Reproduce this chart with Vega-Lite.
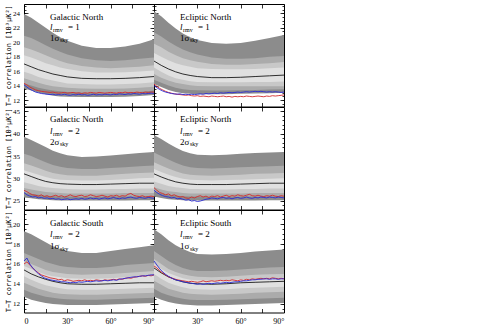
{
"$schema":"https://vega.github.io/schema/vega-lite/v6.json",
"padding":{"left":3,"top":3,"right":0,"bottom":0},
"datasets":{
"bands":[
{"p":"GN1","x":0,"h3":23.9,"h2":20.9,"h1":19.3,"h0":18.2,"m":17.0,"l0":15.9,"l1":15.0,"l2":14.3,"l3":13.6},
{"p":"GN1","x":5,"h3":23.4,"h2":20.6,"h1":19.0,"h0":17.9,"m":16.6,"l0":15.6,"l1":14.7,"l2":14.0,"l3":13.3},
{"p":"GN1","x":10,"h3":22.7,"h2":20.1,"h1":18.6,"h0":17.5,"m":16.2,"l0":15.2,"l1":14.4,"l2":13.7,"l3":13.0},
{"p":"GN1","x":15,"h3":22.0,"h2":19.6,"h1":18.2,"h0":17.1,"m":15.9,"l0":14.9,"l1":14.1,"l2":13.5,"l3":12.8},
{"p":"GN1","x":20,"h3":21.3,"h2":19.1,"h1":17.8,"h0":16.8,"m":15.6,"l0":14.7,"l1":13.9,"l2":13.3,"l3":12.6},
{"p":"GN1","x":25,"h3":20.7,"h2":18.7,"h1":17.4,"h0":16.5,"m":15.4,"l0":14.5,"l1":13.8,"l2":13.2,"l3":12.5},
{"p":"GN1","x":30,"h3":20.2,"h2":18.3,"h1":17.1,"h0":16.3,"m":15.2,"l0":14.3,"l1":13.7,"l2":13.1,"l3":12.45},
{"p":"GN1","x":40,"h3":19.5,"h2":17.8,"h1":16.7,"h0":16.0,"m":15.0,"l0":14.2,"l1":13.6,"l2":13.0,"l3":12.4},
{"p":"GN1","x":50,"h3":19.2,"h2":17.5,"h1":16.5,"h0":15.8,"m":14.95,"l0":14.15,"l1":13.55,"l2":12.95,"l3":12.4},
{"p":"GN1","x":60,"h3":19.2,"h2":17.4,"h1":16.4,"h0":15.8,"m":14.95,"l0":14.15,"l1":13.55,"l2":12.95,"l3":12.4},
{"p":"GN1","x":70,"h3":19.4,"h2":17.5,"h1":16.5,"h0":15.85,"m":15.0,"l0":14.2,"l1":13.6,"l2":13.0,"l3":12.45},
{"p":"GN1","x":80,"h3":19.8,"h2":17.7,"h1":16.6,"h0":15.95,"m":15.1,"l0":14.3,"l1":13.7,"l2":13.1,"l3":12.55},
{"p":"GN1","x":90,"h3":20.4,"h2":17.9,"h1":16.8,"h0":16.1,"m":15.25,"l0":14.45,"l1":13.85,"l2":13.3,"l3":12.7},
{"p":"EN1","x":0,"h3":24.3,"h2":21.4,"h1":19.8,"h0":18.5,"m":17.4,"l0":16.5,"l1":15.6,"l2":14.8,"l3":14.2},
{"p":"EN1","x":5,"h3":23.6,"h2":20.8,"h1":19.3,"h0":18.0,"m":16.8,"l0":15.9,"l1":15.1,"l2":14.4,"l3":13.8},
{"p":"EN1","x":10,"h3":22.7,"h2":20.1,"h1":18.7,"h0":17.5,"m":16.3,"l0":15.4,"l1":14.7,"l2":14.0,"l3":13.4},
{"p":"EN1","x":15,"h3":21.9,"h2":19.5,"h1":18.2,"h0":17.1,"m":15.9,"l0":15.0,"l1":14.4,"l2":13.7,"l3":13.1},
{"p":"EN1","x":20,"h3":21.2,"h2":19.0,"h1":17.8,"h0":16.8,"m":15.6,"l0":14.8,"l1":14.2,"l2":13.5,"l3":12.95},
{"p":"EN1","x":25,"h3":20.7,"h2":18.6,"h1":17.5,"h0":16.6,"m":15.4,"l0":14.6,"l1":14.05,"l2":13.4,"l3":12.85},
{"p":"EN1","x":30,"h3":20.3,"h2":18.3,"h1":17.3,"h0":16.4,"m":15.25,"l0":14.5,"l1":13.95,"l2":13.35,"l3":12.8},
{"p":"EN1","x":40,"h3":19.9,"h2":17.9,"h1":17.0,"h0":16.3,"m":15.1,"l0":14.45,"l1":13.9,"l2":13.3,"l3":12.8},
{"p":"EN1","x":50,"h3":19.8,"h2":17.7,"h1":16.9,"h0":16.25,"m":15.1,"l0":14.45,"l1":13.9,"l2":13.3,"l3":12.8},
{"p":"EN1","x":60,"h3":19.9,"h2":17.7,"h1":16.9,"h0":16.25,"m":15.15,"l0":14.45,"l1":13.9,"l2":13.35,"l3":12.85},
{"p":"EN1","x":70,"h3":20.2,"h2":17.8,"h1":17.0,"h0":16.3,"m":15.25,"l0":14.5,"l1":13.9,"l2":13.4,"l3":12.9},
{"p":"EN1","x":80,"h3":20.6,"h2":18.0,"h1":17.1,"h0":16.4,"m":15.35,"l0":14.5,"l1":13.9,"l2":13.45,"l3":12.95},
{"p":"EN1","x":90,"h3":21.0,"h2":18.1,"h1":17.25,"h0":16.5,"m":15.45,"l0":14.55,"l1":13.9,"l2":13.5,"l3":13.0},
{"p":"GN2","x":0,"h3":39.3,"h2":35.5,"h1":33.4,"h0":31.8,"m":31.0,"l0":29.1,"l1":27.8,"l2":26.8,"l3":25.7},
{"p":"GN2","x":5,"h3":38.6,"h2":35.0,"h1":32.9,"h0":31.3,"m":30.4,"l0":28.7,"l1":27.5,"l2":26.5,"l3":25.5},
{"p":"GN2","x":10,"h3":37.8,"h2":34.3,"h1":32.3,"h0":30.8,"m":29.8,"l0":28.3,"l1":27.2,"l2":26.3,"l3":25.3},
{"p":"GN2","x":15,"h3":37.0,"h2":33.6,"h1":31.7,"h0":30.3,"m":29.3,"l0":28.0,"l1":26.9,"l2":26.1,"l3":25.2},
{"p":"GN2","x":20,"h3":36.2,"h2":33.0,"h1":31.2,"h0":29.9,"m":29.0,"l0":27.8,"l1":26.8,"l2":26.0,"l3":25.1},
{"p":"GN2","x":25,"h3":35.6,"h2":32.6,"h1":30.9,"h0":29.7,"m":28.8,"l0":27.7,"l1":26.7,"l2":25.9,"l3":25.0},
{"p":"GN2","x":30,"h3":35.2,"h2":32.3,"h1":30.7,"h0":29.6,"m":28.7,"l0":27.6,"l1":26.6,"l2":25.9,"l3":25.0},
{"p":"GN2","x":40,"h3":34.8,"h2":32.1,"h1":30.6,"h0":29.5,"m":28.6,"l0":27.5,"l1":26.6,"l2":25.8,"l3":25.0},
{"p":"GN2","x":50,"h3":34.9,"h2":32.1,"h1":30.6,"h0":29.5,"m":28.6,"l0":27.5,"l1":26.6,"l2":25.8,"l3":25.0},
{"p":"GN2","x":60,"h3":35.1,"h2":32.3,"h1":30.8,"h0":29.6,"m":28.7,"l0":27.6,"l1":26.6,"l2":25.9,"l3":25.0},
{"p":"GN2","x":70,"h3":35.4,"h2":32.5,"h1":31.0,"h0":29.8,"m":28.8,"l0":27.6,"l1":26.7,"l2":25.9,"l3":25.0},
{"p":"GN2","x":80,"h3":35.7,"h2":32.7,"h1":31.2,"h0":30.0,"m":28.9,"l0":27.7,"l1":26.7,"l2":25.9,"l3":25.1},
{"p":"GN2","x":90,"h3":35.9,"h2":32.9,"h1":31.3,"h0":30.1,"m":28.9,"l0":27.7,"l1":26.7,"l2":26.0,"l3":25.1},
{"p":"EN2","x":0,"h3":39.7,"h2":35.8,"h1":33.6,"h0":32.1,"m":31.0,"l0":29.3,"l1":28.0,"l2":27.0,"l3":25.9},
{"p":"EN2","x":5,"h3":38.8,"h2":35.0,"h1":32.9,"h0":31.4,"m":30.3,"l0":28.8,"l1":27.5,"l2":26.6,"l3":25.6},
{"p":"EN2","x":10,"h3":37.8,"h2":34.2,"h1":32.2,"h0":30.8,"m":29.7,"l0":28.3,"l1":27.1,"l2":26.3,"l3":25.3},
{"p":"EN2","x":15,"h3":36.9,"h2":33.5,"h1":31.6,"h0":30.3,"m":29.2,"l0":28.0,"l1":26.9,"l2":26.1,"l3":25.2},
{"p":"EN2","x":20,"h3":36.1,"h2":32.9,"h1":31.1,"h0":29.9,"m":28.9,"l0":27.8,"l1":26.7,"l2":26.0,"l3":25.1},
{"p":"EN2","x":25,"h3":35.6,"h2":32.5,"h1":30.8,"h0":29.7,"m":28.7,"l0":27.6,"l1":26.6,"l2":25.9,"l3":25.0},
{"p":"EN2","x":30,"h3":35.3,"h2":32.3,"h1":30.7,"h0":29.6,"m":28.6,"l0":27.6,"l1":26.6,"l2":25.9,"l3":25.0},
{"p":"EN2","x":40,"h3":35.2,"h2":32.2,"h1":30.6,"h0":29.5,"m":28.6,"l0":27.5,"l1":26.6,"l2":25.8,"l3":25.0},
{"p":"EN2","x":50,"h3":35.3,"h2":32.3,"h1":30.7,"h0":29.6,"m":28.6,"l0":27.5,"l1":26.6,"l2":25.8,"l3":25.0},
{"p":"EN2","x":60,"h3":35.5,"h2":32.5,"h1":30.8,"h0":29.7,"m":28.7,"l0":27.6,"l1":26.6,"l2":25.9,"l3":25.0},
{"p":"EN2","x":70,"h3":35.7,"h2":32.6,"h1":31.0,"h0":29.8,"m":28.8,"l0":27.6,"l1":26.7,"l2":25.9,"l3":25.0},
{"p":"EN2","x":80,"h3":35.8,"h2":32.7,"h1":31.1,"h0":29.9,"m":28.9,"l0":27.7,"l1":26.7,"l2":25.9,"l3":25.1},
{"p":"EN2","x":90,"h3":35.9,"h2":32.8,"h1":31.2,"h0":30.0,"m":28.9,"l0":27.7,"l1":26.7,"l2":26.0,"l3":25.1},
{"p":"GS2","x":0,"h3":19.3,"h2":17.1,"h1":16.3,"h0":15.8,"m":15.4,"l0":14.75,"l1":14.1,"l2":13.4,"l3":12.7},
{"p":"GS2","x":5,"h3":19.0,"h2":16.8,"h1":16.0,"h0":15.5,"m":15.0,"l0":14.4,"l1":13.8,"l2":13.1,"l3":12.4},
{"p":"GS2","x":10,"h3":18.6,"h2":16.5,"h1":15.7,"h0":15.2,"m":14.7,"l0":14.1,"l1":13.5,"l2":12.9,"l3":12.2},
{"p":"GS2","x":15,"h3":18.2,"h2":16.2,"h1":15.4,"h0":14.9,"m":14.45,"l0":13.85,"l1":13.3,"l2":12.7,"l3":12.05},
{"p":"GS2","x":20,"h3":17.8,"h2":16.0,"h1":15.2,"h0":14.75,"m":14.25,"l0":13.7,"l1":13.1,"l2":12.6,"l3":11.95},
{"p":"GS2","x":25,"h3":17.5,"h2":15.8,"h1":15.1,"h0":14.65,"m":14.1,"l0":13.55,"l1":13.0,"l2":12.5,"l3":11.9},
{"p":"GS2","x":30,"h3":17.3,"h2":15.7,"h1":15.0,"h0":14.55,"m":14.0,"l0":13.45,"l1":12.95,"l2":12.45,"l3":11.85},
{"p":"GS2","x":40,"h3":17.1,"h2":15.6,"h1":14.9,"h0":14.5,"m":13.95,"l0":13.4,"l1":12.9,"l2":12.4,"l3":11.85},
{"p":"GS2","x":50,"h3":17.1,"h2":15.6,"h1":14.95,"h0":14.5,"m":13.95,"l0":13.4,"l1":12.9,"l2":12.4,"l3":11.85},
{"p":"GS2","x":60,"h3":17.3,"h2":15.7,"h1":15.0,"h0":14.55,"m":14.0,"l0":13.45,"l1":12.95,"l2":12.45,"l3":11.9},
{"p":"GS2","x":70,"h3":17.5,"h2":15.9,"h1":15.1,"h0":14.65,"m":14.05,"l0":13.5,"l1":13.0,"l2":12.5,"l3":11.95},
{"p":"GS2","x":80,"h3":17.7,"h2":16.0,"h1":15.2,"h0":14.75,"m":14.1,"l0":13.55,"l1":13.05,"l2":12.55,"l3":12.0},
{"p":"GS2","x":90,"h3":17.9,"h2":16.1,"h1":15.3,"h0":14.8,"m":14.1,"l0":13.6,"l1":13.1,"l2":12.6,"l3":12.05},
{"p":"ES2","x":0,"h3":19.5,"h2":17.3,"h1":16.5,"h0":16.0,"m":15.6,"l0":15.0,"l1":14.3,"l2":13.5,"l3":12.7},
{"p":"ES2","x":5,"h3":19.0,"h2":16.8,"h1":16.0,"h0":15.5,"m":15.1,"l0":14.5,"l1":13.9,"l2":13.1,"l3":12.4},
{"p":"ES2","x":10,"h3":18.4,"h2":16.3,"h1":15.5,"h0":15.1,"m":14.7,"l0":14.1,"l1":13.5,"l2":12.85,"l3":12.15},
{"p":"ES2","x":15,"h3":17.9,"h2":15.9,"h1":15.2,"h0":14.8,"m":14.4,"l0":13.85,"l1":13.3,"l2":12.65,"l3":12.0},
{"p":"ES2","x":20,"h3":17.5,"h2":15.6,"h1":14.95,"h0":14.55,"m":14.2,"l0":13.65,"l1":13.1,"l2":12.5,"l3":11.9},
{"p":"ES2","x":25,"h3":17.2,"h2":15.4,"h1":14.8,"h0":14.4,"m":14.05,"l0":13.5,"l1":13.0,"l2":12.4,"l3":11.85},
{"p":"ES2","x":30,"h3":17.0,"h2":15.3,"h1":14.7,"h0":14.35,"m":14.0,"l0":13.45,"l1":12.95,"l2":12.35,"l3":11.8},
{"p":"ES2","x":40,"h3":16.95,"h2":15.3,"h1":14.65,"h0":14.3,"m":13.95,"l0":13.4,"l1":12.9,"l2":12.35,"l3":11.8},
{"p":"ES2","x":50,"h3":17.0,"h2":15.35,"h1":14.7,"h0":14.35,"m":14.0,"l0":13.45,"l1":12.95,"l2":12.4,"l3":11.85},
{"p":"ES2","x":60,"h3":17.1,"h2":15.45,"h1":14.8,"h0":14.45,"m":14.1,"l0":13.55,"l1":13.0,"l2":12.45,"l3":11.9},
{"p":"ES2","x":70,"h3":17.25,"h2":15.55,"h1":14.9,"h0":14.5,"m":14.15,"l0":13.6,"l1":13.1,"l2":12.5,"l3":11.95},
{"p":"ES2","x":80,"h3":17.35,"h2":15.65,"h1":14.95,"h0":14.55,"m":14.2,"l0":13.65,"l1":13.15,"l2":12.55,"l3":12.0},
{"p":"ES2","x":90,"h3":17.45,"h2":15.7,"h1":15.0,"h0":14.6,"m":14.25,"l0":13.7,"l1":13.2,"l2":12.6,"l3":12.05}
],
"lines":[
{"p":"GN1","x":0,"r":14.3,"b":14.1},{"p":"GN1","x":2,"r":14.1,"b":13.8},{"p":"GN1","x":4,"r":13.8,"b":13.5},{"p":"GN1","x":6,"r":13.6,"b":13.3},{"p":"GN1","x":8,"r":13.4,"b":13.1},{"p":"GN1","x":10,"r":13.3,"b":13.0},{"p":"GN1","x":12,"r":13.2,"b":12.9},{"p":"GN1","x":14,"r":13.15,"b":12.85},{"p":"GN1","x":16,"r":13.1,"b":12.8},{"p":"GN1","x":18,"r":13.05,"b":12.75},
{"p":"GN1","x":20,"r":13.1,"b":12.8},{"p":"GN1","x":22,"r":13.0,"b":12.7},{"p":"GN1","x":24,"r":12.95,"b":12.75},{"p":"GN1","x":26,"r":13.0,"b":12.7},{"p":"GN1","x":28,"r":13.05,"b":12.8},{"p":"GN1","x":30,"r":12.95,"b":12.7},{"p":"GN1","x":32,"r":13.0,"b":12.65},{"p":"GN1","x":34,"r":13.05,"b":12.75},{"p":"GN1","x":36,"r":12.95,"b":12.7},{"p":"GN1","x":38,"r":13.0,"b":12.8},
{"p":"GN1","x":40,"r":12.9,"b":12.7},{"p":"GN1","x":42,"r":13.0,"b":12.75},{"p":"GN1","x":44,"r":12.95,"b":12.65},{"p":"GN1","x":46,"r":13.05,"b":12.7},{"p":"GN1","x":48,"r":13.0,"b":12.8},{"p":"GN1","x":50,"r":12.95,"b":12.7},{"p":"GN1","x":52,"r":13.05,"b":12.75},{"p":"GN1","x":54,"r":13.0,"b":12.7},{"p":"GN1","x":56,"r":12.95,"b":12.8},{"p":"GN1","x":58,"r":13.0,"b":12.75},
{"p":"GN1","x":60,"r":13.05,"b":12.7},{"p":"GN1","x":62,"r":13.0,"b":12.8},{"p":"GN1","x":64,"r":12.95,"b":12.75},{"p":"GN1","x":66,"r":13.05,"b":12.85},{"p":"GN1","x":68,"r":13.0,"b":12.8},{"p":"GN1","x":70,"r":13.1,"b":12.75},{"p":"GN1","x":72,"r":13.0,"b":12.85},{"p":"GN1","x":74,"r":13.05,"b":12.8},{"p":"GN1","x":76,"r":13.0,"b":12.9},{"p":"GN1","x":78,"r":13.1,"b":12.85},
{"p":"GN1","x":80,"r":13.05,"b":12.8},{"p":"GN1","x":82,"r":13.0,"b":12.9},{"p":"GN1","x":84,"r":13.1,"b":12.85},{"p":"GN1","x":86,"r":13.05,"b":12.9},{"p":"GN1","x":88,"r":13.1,"b":12.95},{"p":"GN1","x":90,"r":13.1,"b":12.9},
{"p":"EN1","x":0,"r":14.2,"b":14.0},{"p":"EN1","x":2,"r":13.9,"b":13.7},{"p":"EN1","x":4,"r":13.6,"b":13.45},{"p":"EN1","x":6,"r":13.4,"b":13.25},{"p":"EN1","x":8,"r":13.2,"b":13.1},{"p":"EN1","x":10,"r":13.05,"b":13.0},{"p":"EN1","x":12,"r":12.95,"b":12.9},{"p":"EN1","x":14,"r":12.85,"b":12.85},{"p":"EN1","x":16,"r":12.8,"b":12.8},{"p":"EN1","x":18,"r":12.75,"b":12.85},
{"p":"EN1","x":20,"r":12.7,"b":12.75},{"p":"EN1","x":22,"r":12.65,"b":12.8},{"p":"EN1","x":24,"r":12.7,"b":12.75},{"p":"EN1","x":26,"r":12.6,"b":12.8},{"p":"EN1","x":28,"r":12.55,"b":12.75},{"p":"EN1","x":30,"r":12.6,"b":12.8},{"p":"EN1","x":32,"r":12.5,"b":12.85},{"p":"EN1","x":34,"r":12.55,"b":12.8},{"p":"EN1","x":36,"r":12.5,"b":12.9},{"p":"EN1","x":38,"r":12.45,"b":12.85},
{"p":"EN1","x":40,"r":12.55,"b":12.9},{"p":"EN1","x":42,"r":12.5,"b":12.95},{"p":"EN1","x":44,"r":12.45,"b":12.9},{"p":"EN1","x":46,"r":12.5,"b":13.0},{"p":"EN1","x":48,"r":12.55,"b":12.95},{"p":"EN1","x":50,"r":12.45,"b":13.0},{"p":"EN1","x":52,"r":12.5,"b":13.05},{"p":"EN1","x":54,"r":12.4,"b":13.0},{"p":"EN1","x":56,"r":12.5,"b":13.05},{"p":"EN1","x":58,"r":12.45,"b":13.1},
{"p":"EN1","x":60,"r":12.5,"b":13.05},{"p":"EN1","x":62,"r":12.45,"b":13.1},{"p":"EN1","x":64,"r":12.55,"b":13.15},{"p":"EN1","x":66,"r":12.5,"b":13.1},{"p":"EN1","x":68,"r":12.45,"b":13.15},{"p":"EN1","x":70,"r":12.5,"b":13.2},{"p":"EN1","x":72,"r":12.55,"b":13.15},{"p":"EN1","x":74,"r":12.5,"b":13.2},{"p":"EN1","x":76,"r":12.45,"b":13.15},{"p":"EN1","x":78,"r":12.55,"b":13.1},
{"p":"EN1","x":80,"r":12.5,"b":13.15},{"p":"EN1","x":82,"r":12.6,"b":13.1},{"p":"EN1","x":84,"r":12.55,"b":13.15},{"p":"EN1","x":86,"r":12.6,"b":13.1},{"p":"EN1","x":88,"r":12.65,"b":13.05},{"p":"EN1","x":90,"r":12.7,"b":13.1},
{"p":"GN2","x":0,"r":27.3,"b":26.8},{"p":"GN2","x":2,"r":27.0,"b":26.3},{"p":"GN2","x":4,"r":26.6,"b":26.0},{"p":"GN2","x":6,"r":26.3,"b":25.8},{"p":"GN2","x":8,"r":26.2,"b":25.9},{"p":"GN2","x":10,"r":26.0,"b":25.6},{"p":"GN2","x":12,"r":26.3,"b":25.7},{"p":"GN2","x":14,"r":25.9,"b":25.5},{"p":"GN2","x":16,"r":26.1,"b":25.6},{"p":"GN2","x":18,"r":25.8,"b":25.4},
{"p":"GN2","x":20,"r":26.0,"b":25.5},{"p":"GN2","x":22,"r":26.2,"b":25.3},{"p":"GN2","x":24,"r":25.9,"b":25.4},{"p":"GN2","x":26,"r":26.1,"b":25.2},{"p":"GN2","x":28,"r":25.8,"b":25.3},{"p":"GN2","x":30,"r":26.0,"b":25.4},{"p":"GN2","x":32,"r":26.3,"b":25.2},{"p":"GN2","x":34,"r":26.0,"b":25.3},{"p":"GN2","x":36,"r":25.9,"b":25.4},{"p":"GN2","x":38,"r":26.1,"b":25.3},
{"p":"GN2","x":40,"r":26.2,"b":25.5},{"p":"GN2","x":42,"r":25.9,"b":25.3},{"p":"GN2","x":44,"r":26.0,"b":25.4},{"p":"GN2","x":46,"r":26.3,"b":25.6},{"p":"GN2","x":48,"r":26.1,"b":25.4},{"p":"GN2","x":50,"r":25.9,"b":25.5},{"p":"GN2","x":52,"r":26.0,"b":25.3},{"p":"GN2","x":54,"r":26.2,"b":25.5},{"p":"GN2","x":56,"r":26.0,"b":25.6},{"p":"GN2","x":58,"r":25.8,"b":25.4},
{"p":"GN2","x":60,"r":26.1,"b":25.5},{"p":"GN2","x":62,"r":26.0,"b":25.7},{"p":"GN2","x":64,"r":26.2,"b":25.5},{"p":"GN2","x":66,"r":25.9,"b":25.4},{"p":"GN2","x":68,"r":26.1,"b":25.6},{"p":"GN2","x":70,"r":26.0,"b":25.5},{"p":"GN2","x":72,"r":26.4,"b":25.7},{"p":"GN2","x":74,"r":26.6,"b":25.8},{"p":"GN2","x":76,"r":26.2,"b":25.6},{"p":"GN2","x":78,"r":26.0,"b":25.5},
{"p":"GN2","x":80,"r":25.9,"b":25.7},{"p":"GN2","x":82,"r":26.1,"b":25.6},{"p":"GN2","x":84,"r":25.8,"b":25.5},{"p":"GN2","x":86,"r":25.9,"b":25.7},{"p":"GN2","x":88,"r":26.0,"b":25.6},{"p":"GN2","x":90,"r":25.9,"b":25.5},
{"p":"EN2","x":0,"r":27.9,"b":27.3},{"p":"EN2","x":2,"r":27.3,"b":26.8},{"p":"EN2","x":4,"r":26.8,"b":26.4},{"p":"EN2","x":6,"r":26.6,"b":26.1},{"p":"EN2","x":8,"r":26.3,"b":25.9},{"p":"EN2","x":10,"r":26.5,"b":25.8},{"p":"EN2","x":12,"r":26.1,"b":25.6},{"p":"EN2","x":14,"r":26.3,"b":25.7},{"p":"EN2","x":16,"r":26.0,"b":25.4},{"p":"EN2","x":18,"r":25.8,"b":25.5},
{"p":"EN2","x":20,"r":25.9,"b":25.3},{"p":"EN2","x":22,"r":25.6,"b":25.1},{"p":"EN2","x":24,"r":25.5,"b":25.2},{"p":"EN2","x":26,"r":25.8,"b":24.9},{"p":"EN2","x":28,"r":25.6,"b":25.0},{"p":"EN2","x":30,"r":25.9,"b":24.8},{"p":"EN2","x":32,"r":26.1,"b":24.9},{"p":"EN2","x":34,"r":25.8,"b":25.1},{"p":"EN2","x":36,"r":26.0,"b":25.3},{"p":"EN2","x":38,"r":25.7,"b":25.4},
{"p":"EN2","x":40,"r":26.0,"b":25.6},{"p":"EN2","x":42,"r":25.9,"b":25.5},{"p":"EN2","x":44,"r":26.1,"b":25.4},{"p":"EN2","x":46,"r":25.8,"b":25.6},{"p":"EN2","x":48,"r":26.0,"b":25.7},{"p":"EN2","x":50,"r":26.2,"b":25.5},{"p":"EN2","x":52,"r":25.9,"b":25.6},{"p":"EN2","x":54,"r":26.1,"b":25.4},{"p":"EN2","x":56,"r":26.0,"b":25.6},{"p":"EN2","x":58,"r":26.3,"b":25.7},
{"p":"EN2","x":60,"r":26.1,"b":25.5},{"p":"EN2","x":62,"r":26.0,"b":25.6},{"p":"EN2","x":64,"r":26.2,"b":25.8},{"p":"EN2","x":66,"r":26.4,"b":25.6},{"p":"EN2","x":68,"r":26.1,"b":25.5},{"p":"EN2","x":70,"r":26.0,"b":25.7},{"p":"EN2","x":72,"r":26.2,"b":25.6},{"p":"EN2","x":74,"r":26.0,"b":25.8},{"p":"EN2","x":76,"r":25.9,"b":25.7},{"p":"EN2","x":78,"r":26.1,"b":25.6},
{"p":"EN2","x":80,"r":26.0,"b":25.8},{"p":"EN2","x":82,"r":26.2,"b":25.7},{"p":"EN2","x":84,"r":26.0,"b":25.6},{"p":"EN2","x":86,"r":25.9,"b":25.8},{"p":"EN2","x":88,"r":26.1,"b":25.7},{"p":"EN2","x":90,"r":26.0,"b":25.6},
{"p":"GS2","x":0,"r":16.0,"b":16.3},{"p":"GS2","x":2,"r":16.2,"b":16.6},{"p":"GS2","x":4,"r":15.9,"b":16.0},{"p":"GS2","x":6,"r":15.6,"b":15.6},{"p":"GS2","x":8,"r":15.3,"b":15.3},{"p":"GS2","x":10,"r":15.1,"b":15.0},{"p":"GS2","x":12,"r":14.9,"b":14.8},{"p":"GS2","x":14,"r":14.8,"b":14.6},{"p":"GS2","x":16,"r":14.7,"b":14.5},{"p":"GS2","x":18,"r":14.6,"b":14.4},
{"p":"GS2","x":20,"r":14.55,"b":14.35},{"p":"GS2","x":22,"r":14.5,"b":14.3},{"p":"GS2","x":24,"r":14.4,"b":14.25},{"p":"GS2","x":26,"r":14.45,"b":14.2},{"p":"GS2","x":28,"r":14.3,"b":14.2},{"p":"GS2","x":30,"r":14.4,"b":14.15},{"p":"GS2","x":32,"r":14.35,"b":14.1},{"p":"GS2","x":34,"r":14.25,"b":14.15},{"p":"GS2","x":36,"r":14.3,"b":14.1},{"p":"GS2","x":38,"r":14.35,"b":14.2},
{"p":"GS2","x":40,"r":14.3,"b":14.15},{"p":"GS2","x":42,"r":14.4,"b":14.2},{"p":"GS2","x":44,"r":14.3,"b":14.25},{"p":"GS2","x":46,"r":14.35,"b":14.2},{"p":"GS2","x":48,"r":14.3,"b":14.25},{"p":"GS2","x":50,"r":14.4,"b":14.3},{"p":"GS2","x":52,"r":14.35,"b":14.25},{"p":"GS2","x":54,"r":14.3,"b":14.3},{"p":"GS2","x":56,"r":14.4,"b":14.35},{"p":"GS2","x":58,"r":14.35,"b":14.3},
{"p":"GS2","x":60,"r":14.4,"b":14.35},{"p":"GS2","x":62,"r":14.45,"b":14.4},{"p":"GS2","x":64,"r":14.4,"b":14.35},{"p":"GS2","x":66,"r":14.5,"b":14.45},{"p":"GS2","x":68,"r":14.45,"b":14.5},{"p":"GS2","x":70,"r":14.55,"b":14.55},{"p":"GS2","x":72,"r":14.6,"b":14.6},{"p":"GS2","x":74,"r":14.55,"b":14.65},{"p":"GS2","x":76,"r":14.65,"b":14.7},{"p":"GS2","x":78,"r":14.7,"b":14.7},
{"p":"GS2","x":80,"r":14.75,"b":14.75},{"p":"GS2","x":82,"r":14.8,"b":14.8},{"p":"GS2","x":84,"r":14.75,"b":14.8},{"p":"GS2","x":86,"r":14.85,"b":14.85},{"p":"GS2","x":88,"r":14.8,"b":14.9},{"p":"GS2","x":90,"r":14.9,"b":14.9},
{"p":"ES2","x":0,"r":15.8,"b":16.3},{"p":"ES2","x":2,"r":15.6,"b":15.9},{"p":"ES2","x":4,"r":15.3,"b":15.5},{"p":"ES2","x":6,"r":15.1,"b":15.2},{"p":"ES2","x":8,"r":14.9,"b":14.95},{"p":"ES2","x":10,"r":14.7,"b":14.75},{"p":"ES2","x":12,"r":14.6,"b":14.6},{"p":"ES2","x":14,"r":14.5,"b":14.45},{"p":"ES2","x":16,"r":14.4,"b":14.35},{"p":"ES2","x":18,"r":14.35,"b":14.3},
{"p":"ES2","x":20,"r":14.3,"b":14.2},{"p":"ES2","x":22,"r":14.25,"b":14.15},{"p":"ES2","x":24,"r":14.2,"b":14.1},{"p":"ES2","x":26,"r":14.25,"b":14.05},{"p":"ES2","x":28,"r":14.2,"b":14.0},{"p":"ES2","x":30,"r":14.15,"b":13.95},{"p":"ES2","x":32,"r":14.2,"b":14.0},{"p":"ES2","x":34,"r":14.3,"b":13.95},{"p":"ES2","x":36,"r":14.2,"b":14.0},{"p":"ES2","x":38,"r":14.25,"b":14.05},
{"p":"ES2","x":40,"r":14.3,"b":14.0},{"p":"ES2","x":42,"r":14.25,"b":14.05},{"p":"ES2","x":44,"r":14.3,"b":14.1},{"p":"ES2","x":46,"r":14.35,"b":14.05},{"p":"ES2","x":48,"r":14.3,"b":14.1},{"p":"ES2","x":50,"r":14.35,"b":14.15},{"p":"ES2","x":52,"r":14.3,"b":14.1},{"p":"ES2","x":54,"r":14.4,"b":14.15},{"p":"ES2","x":56,"r":14.35,"b":14.2},{"p":"ES2","x":58,"r":14.3,"b":14.2},
{"p":"ES2","x":60,"r":14.4,"b":14.25},{"p":"ES2","x":62,"r":14.35,"b":14.3},{"p":"ES2","x":64,"r":14.45,"b":14.3},{"p":"ES2","x":66,"r":14.4,"b":14.35},{"p":"ES2","x":68,"r":14.5,"b":14.4},{"p":"ES2","x":70,"r":14.45,"b":14.4},{"p":"ES2","x":72,"r":14.5,"b":14.45},{"p":"ES2","x":74,"r":14.55,"b":14.45},{"p":"ES2","x":76,"r":14.5,"b":14.5},{"p":"ES2","x":78,"r":14.55,"b":14.5},
{"p":"ES2","x":80,"r":14.5,"b":14.45},{"p":"ES2","x":82,"r":14.6,"b":14.5},{"p":"ES2","x":84,"r":14.55,"b":14.5},{"p":"ES2","x":86,"r":14.5,"b":14.45},{"p":"ES2","x":88,"r":14.55,"b":14.5},{"p":"ES2","x":90,"r":14.5,"b":14.5}
],
"ann":[
{"p":"GN1","x":18,"y1":23.45,"y2":22.05,"y3":20.6,"name":"Galactic North","eq":"=  1","sig":"1σ"},
{"p":"EN1","x":18,"y1":23.45,"y2":22.05,"y3":20.6,"name":"Ecliptic North","eq":"=  1","sig":"1σ"},
{"p":"GN2","x":18,"y1":43.2,"y2":40.6,"y3":38.2,"name":"Galactic North","eq":"=  2","sig":"2σ"},
{"p":"EN2","x":18,"y1":43.2,"y2":40.6,"y3":38.2,"name":"Ecliptic North","eq":"=  2","sig":"2σ"},
{"p":"GS2","x":18,"y1":20.16,"y2":18.98,"y3":17.8,"name":"Galactic South","eq":"=  2","sig":"1σ"},
{"p":"ES2","x":18,"y1":20.16,"y2":18.98,"y3":17.8,"name":"Ecliptic South","eq":"=  2","sig":"1σ"}
]
},
"columns":2,
"spacing":0,
"bounds":"flush",
"concat":[
{"width":130,"height":102.5,"resolve":{"axis":{"x":"independent","y":"independent"}},"layer":[
 {"data":{"name":"bands"},"transform":[{"filter":"datum.p=='GN1'"}],"encoding":{"x":{"field":"x","type":"quantitative","scale":{"domain":[0,90],"nice":false},"axis":null}},
  "layer":[
   {"mark":{"type":"area","color":"#8c8c8c"},"encoding":{"y":{"field":"h3","type":"quantitative","scale":{"domain":[11.1,25.3],"nice":false,"zero":false},"axis":null},"y2":{"field":"l3"}}},
   {"mark":{"type":"area","color":"#ababab"},"encoding":{"y":{"field":"h2","type":"quantitative","axis":null},"y2":{"field":"l2"}}},
   {"mark":{"type":"area","color":"#c8c8c8"},"encoding":{"y":{"field":"h1","type":"quantitative","axis":null},"y2":{"field":"l1"}}},
   {"mark":{"type":"area","color":"#e0e0e0"},"encoding":{"y":{"field":"h0","type":"quantitative","axis":null},"y2":{"field":"l0"}}}
  ]},
 {"data":{"name":"bands"},"transform":[{"filter":"datum.p=='GN1'"}],"mark":{"type":"line","color":"#000","strokeWidth":0.8},"encoding":{"x":{"field":"x","type":"quantitative","axis":null},"y":{"field":"m","type":"quantitative","axis":{"orient":"left","values":[11.5,12,12.5,13,13.5,14,14.5,15,15.5,16,16.5,17,17.5,18,18.5,19,19.5,20,20.5,21,21.5,22,22.5,23,23.5,24,24.5,25],"tickSize":2,"offset":-2,"labels":false,"title":null}}}},
 {"data":{"name":"lines"},"transform":[{"filter":"datum.p=='GN1'"}],"mark":{"type":"line","color":"#d42a2a"},"encoding":{"x":{"field":"x","type":"quantitative","axis":{"orient":"bottom","values":[0,15,30,45,60,75,90],"labels":false,"title":null}},"y":{"field":"r","type":"quantitative","axis":{"orient":"left","values":[12,14,16,18,20,22,24],"title":"T−T correlation [10³μK²]"}}}},
 {"data":{"name":"lines"},"transform":[{"filter":"datum.p=='GN1'"}],"mark":{"type":"line","color":"#2a2ad4"},"encoding":{"x":{"field":"x","type":"quantitative","axis":{"orient":"top","values":[0,15,30,45,60,75,90],"labels":false,"title":null}},"y":{"field":"b","type":"quantitative","axis":{"orient":"right","values":[12,14,16,18,20,22,24],"labels":false,"title":null}}}},
 {"data":{"name":"ann"},"transform":[{"filter":"datum.p=='GN1'"}],"mark":{"type":"text"},"encoding":{"x":{"field":"x","type":"quantitative","axis":null},"y":{"field":"y1","type":"quantitative","axis":{"orient":"right","values":[11.5,12,12.5,13,13.5,14,14.5,15,15.5,16,16.5,17,17.5,18,18.5,19,19.5,20,20.5,21,21.5,22,22.5,23,23.5,24,24.5,25],"tickSize":2,"offset":-2,"labels":false,"title":null}},"text":{"field":"name"}}},
 {"data":{"name":"ann"},"transform":[{"filter":"datum.p=='GN1'"}],"encoding":{"x":{"field":"x","type":"quantitative","axis":null}},
  "layer":[
   {"mark":{"type":"text","text":"l","fontStyle":"italic"},"encoding":{"y":{"field":"y2","type":"quantitative","axis":null}}},
   {"mark":{"type":"text","text":"rmv","fontSize":6,"dx":3,"dy":2.5},"encoding":{"y":{"field":"y2","type":"quantitative","axis":null}}},
   {"mark":{"type":"text","dx":18},"encoding":{"y":{"field":"y2","type":"quantitative","axis":null},"text":{"field":"eq"}}},
   {"mark":{"type":"text"},"encoding":{"y":{"field":"y3","type":"quantitative","axis":null},"text":{"field":"sig"}}},
   {"mark":{"type":"text","text":"sky","fontSize":6,"dx":10,"dy":2.5},"encoding":{"y":{"field":"y3","type":"quantitative","axis":null}}}
  ]}
]},
{"width":130,"height":102.5,"resolve":{"axis":{"x":"independent","y":"independent"}},"layer":[
 {"data":{"name":"bands"},"transform":[{"filter":"datum.p=='EN1'"}],"encoding":{"x":{"field":"x","type":"quantitative","scale":{"domain":[0,90],"nice":false},"axis":null}},
  "layer":[
   {"mark":{"type":"area","color":"#8c8c8c"},"encoding":{"y":{"field":"h3","type":"quantitative","scale":{"domain":[11.1,25.3],"nice":false,"zero":false},"axis":null},"y2":{"field":"l3"}}},
   {"mark":{"type":"area","color":"#ababab"},"encoding":{"y":{"field":"h2","type":"quantitative","axis":null},"y2":{"field":"l2"}}},
   {"mark":{"type":"area","color":"#c8c8c8"},"encoding":{"y":{"field":"h1","type":"quantitative","axis":null},"y2":{"field":"l1"}}},
   {"mark":{"type":"area","color":"#e0e0e0"},"encoding":{"y":{"field":"h0","type":"quantitative","axis":null},"y2":{"field":"l0"}}}
  ]},
 {"data":{"name":"bands"},"transform":[{"filter":"datum.p=='EN1'"}],"mark":{"type":"line","color":"#000","strokeWidth":0.8},"encoding":{"x":{"field":"x","type":"quantitative","axis":null},"y":{"field":"m","type":"quantitative","axis":{"orient":"left","values":[11.5,12,12.5,13,13.5,14,14.5,15,15.5,16,16.5,17,17.5,18,18.5,19,19.5,20,20.5,21,21.5,22,22.5,23,23.5,24,24.5,25],"tickSize":2,"offset":-2,"labels":false,"title":null}}}},
 {"data":{"name":"lines"},"transform":[{"filter":"datum.p=='EN1'"}],"mark":{"type":"line","color":"#d42a2a"},"encoding":{"x":{"field":"x","type":"quantitative","axis":{"orient":"bottom","values":[0,15,30,45,60,75,90],"labels":false,"title":null}},"y":{"field":"r","type":"quantitative","axis":{"orient":"left","values":[12,14,16,18,20,22,24],"labels":false,"title":null}}}},
 {"data":{"name":"lines"},"transform":[{"filter":"datum.p=='EN1'"}],"mark":{"type":"line","color":"#2a2ad4"},"encoding":{"x":{"field":"x","type":"quantitative","axis":{"orient":"top","values":[0,15,30,45,60,75,90],"labels":false,"title":null}},"y":{"field":"b","type":"quantitative","axis":{"orient":"right","values":[12,14,16,18,20,22,24],"labels":false,"title":null}}}},
 {"data":{"name":"ann"},"transform":[{"filter":"datum.p=='EN1'"}],"mark":{"type":"text"},"encoding":{"x":{"field":"x","type":"quantitative","axis":null},"y":{"field":"y1","type":"quantitative","axis":{"orient":"right","values":[11.5,12,12.5,13,13.5,14,14.5,15,15.5,16,16.5,17,17.5,18,18.5,19,19.5,20,20.5,21,21.5,22,22.5,23,23.5,24,24.5,25],"tickSize":2,"offset":-2,"labels":false,"title":null}},"text":{"field":"name"}}},
 {"data":{"name":"ann"},"transform":[{"filter":"datum.p=='EN1'"}],"encoding":{"x":{"field":"x","type":"quantitative","axis":null}},
  "layer":[
   {"mark":{"type":"text","text":"l","fontStyle":"italic"},"encoding":{"y":{"field":"y2","type":"quantitative","axis":null}}},
   {"mark":{"type":"text","text":"rmv","fontSize":6,"dx":3,"dy":2.5},"encoding":{"y":{"field":"y2","type":"quantitative","axis":null}}},
   {"mark":{"type":"text","dx":18},"encoding":{"y":{"field":"y2","type":"quantitative","axis":null},"text":{"field":"eq"}}},
   {"mark":{"type":"text"},"encoding":{"y":{"field":"y3","type":"quantitative","axis":null},"text":{"field":"sig"}}},
   {"mark":{"type":"text","text":"sky","fontSize":6,"dx":10,"dy":2.5},"encoding":{"y":{"field":"y3","type":"quantitative","axis":null}}}
  ]}
]},
{"width":130,"height":102.5,"resolve":{"axis":{"x":"independent","y":"independent"}},"layer":[
 {"data":{"name":"bands"},"transform":[{"filter":"datum.p=='GN2'"}],"encoding":{"x":{"field":"x","type":"quantitative","scale":{"domain":[0,90],"nice":false},"axis":null}},
  "layer":[
   {"mark":{"type":"area","color":"#8c8c8c"},"encoding":{"y":{"field":"h3","type":"quantitative","scale":{"domain":[23,46],"nice":false,"zero":false},"axis":null},"y2":{"field":"l3"}}},
   {"mark":{"type":"area","color":"#ababab"},"encoding":{"y":{"field":"h2","type":"quantitative","axis":null},"y2":{"field":"l2"}}},
   {"mark":{"type":"area","color":"#c8c8c8"},"encoding":{"y":{"field":"h1","type":"quantitative","axis":null},"y2":{"field":"l1"}}},
   {"mark":{"type":"area","color":"#e0e0e0"},"encoding":{"y":{"field":"h0","type":"quantitative","axis":null},"y2":{"field":"l0"}}}
  ]},
 {"data":{"name":"bands"},"transform":[{"filter":"datum.p=='GN2'"}],"mark":{"type":"line","color":"#000","strokeWidth":0.8},"encoding":{"x":{"field":"x","type":"quantitative","axis":null},"y":{"field":"m","type":"quantitative","axis":{"orient":"left","values":[24,25,26,27,28,29,30,31,32,33,34,35,36,37,38,39,40,41,42,43,44,45],"tickSize":2,"offset":-2,"labels":false,"title":null}}}},
 {"data":{"name":"lines"},"transform":[{"filter":"datum.p=='GN2'"}],"mark":{"type":"line","color":"#d42a2a"},"encoding":{"x":{"field":"x","type":"quantitative","axis":{"orient":"bottom","values":[0,15,30,45,60,75,90],"labels":false,"title":null}},"y":{"field":"r","type":"quantitative","axis":{"orient":"left","values":[25,30,35,40,45],"title":"T−T correlation [10³μK²]"}}}},
 {"data":{"name":"lines"},"transform":[{"filter":"datum.p=='GN2'"}],"mark":{"type":"line","color":"#2a2ad4"},"encoding":{"x":{"field":"x","type":"quantitative","axis":{"orient":"top","values":[0,15,30,45,60,75,90],"labels":false,"title":null}},"y":{"field":"b","type":"quantitative","axis":{"orient":"right","values":[25,30,35,40,45],"labels":false,"title":null}}}},
 {"data":{"name":"ann"},"transform":[{"filter":"datum.p=='GN2'"}],"mark":{"type":"text"},"encoding":{"x":{"field":"x","type":"quantitative","axis":null},"y":{"field":"y1","type":"quantitative","axis":{"orient":"right","values":[24,25,26,27,28,29,30,31,32,33,34,35,36,37,38,39,40,41,42,43,44,45],"tickSize":2,"offset":-2,"labels":false,"title":null}},"text":{"field":"name"}}},
 {"data":{"name":"ann"},"transform":[{"filter":"datum.p=='GN2'"}],"encoding":{"x":{"field":"x","type":"quantitative","axis":null}},
  "layer":[
   {"mark":{"type":"text","text":"l","fontStyle":"italic"},"encoding":{"y":{"field":"y2","type":"quantitative","axis":null}}},
   {"mark":{"type":"text","text":"rmv","fontSize":6,"dx":3,"dy":2.5},"encoding":{"y":{"field":"y2","type":"quantitative","axis":null}}},
   {"mark":{"type":"text","dx":18},"encoding":{"y":{"field":"y2","type":"quantitative","axis":null},"text":{"field":"eq"}}},
   {"mark":{"type":"text"},"encoding":{"y":{"field":"y3","type":"quantitative","axis":null},"text":{"field":"sig"}}},
   {"mark":{"type":"text","text":"sky","fontSize":6,"dx":10,"dy":2.5},"encoding":{"y":{"field":"y3","type":"quantitative","axis":null}}}
  ]}
]},
{"width":130,"height":102.5,"resolve":{"axis":{"x":"independent","y":"independent"}},"layer":[
 {"data":{"name":"bands"},"transform":[{"filter":"datum.p=='EN2'"}],"encoding":{"x":{"field":"x","type":"quantitative","scale":{"domain":[0,90],"nice":false},"axis":null}},
  "layer":[
   {"mark":{"type":"area","color":"#8c8c8c"},"encoding":{"y":{"field":"h3","type":"quantitative","scale":{"domain":[23,46],"nice":false,"zero":false},"axis":null},"y2":{"field":"l3"}}},
   {"mark":{"type":"area","color":"#ababab"},"encoding":{"y":{"field":"h2","type":"quantitative","axis":null},"y2":{"field":"l2"}}},
   {"mark":{"type":"area","color":"#c8c8c8"},"encoding":{"y":{"field":"h1","type":"quantitative","axis":null},"y2":{"field":"l1"}}},
   {"mark":{"type":"area","color":"#e0e0e0"},"encoding":{"y":{"field":"h0","type":"quantitative","axis":null},"y2":{"field":"l0"}}}
  ]},
 {"data":{"name":"bands"},"transform":[{"filter":"datum.p=='EN2'"}],"mark":{"type":"line","color":"#000","strokeWidth":0.8},"encoding":{"x":{"field":"x","type":"quantitative","axis":null},"y":{"field":"m","type":"quantitative","axis":{"orient":"left","values":[24,25,26,27,28,29,30,31,32,33,34,35,36,37,38,39,40,41,42,43,44,45],"tickSize":2,"offset":-2,"labels":false,"title":null}}}},
 {"data":{"name":"lines"},"transform":[{"filter":"datum.p=='EN2'"}],"mark":{"type":"line","color":"#d42a2a"},"encoding":{"x":{"field":"x","type":"quantitative","axis":{"orient":"bottom","values":[0,15,30,45,60,75,90],"labels":false,"title":null}},"y":{"field":"r","type":"quantitative","axis":{"orient":"left","values":[25,30,35,40,45],"labels":false,"title":null}}}},
 {"data":{"name":"lines"},"transform":[{"filter":"datum.p=='EN2'"}],"mark":{"type":"line","color":"#2a2ad4"},"encoding":{"x":{"field":"x","type":"quantitative","axis":{"orient":"top","values":[0,15,30,45,60,75,90],"labels":false,"title":null}},"y":{"field":"b","type":"quantitative","axis":{"orient":"right","values":[25,30,35,40,45],"labels":false,"title":null}}}},
 {"data":{"name":"ann"},"transform":[{"filter":"datum.p=='EN2'"}],"mark":{"type":"text"},"encoding":{"x":{"field":"x","type":"quantitative","axis":null},"y":{"field":"y1","type":"quantitative","axis":{"orient":"right","values":[24,25,26,27,28,29,30,31,32,33,34,35,36,37,38,39,40,41,42,43,44,45],"tickSize":2,"offset":-2,"labels":false,"title":null}},"text":{"field":"name"}}},
 {"data":{"name":"ann"},"transform":[{"filter":"datum.p=='EN2'"}],"encoding":{"x":{"field":"x","type":"quantitative","axis":null}},
  "layer":[
   {"mark":{"type":"text","text":"l","fontStyle":"italic"},"encoding":{"y":{"field":"y2","type":"quantitative","axis":null}}},
   {"mark":{"type":"text","text":"rmv","fontSize":6,"dx":3,"dy":2.5},"encoding":{"y":{"field":"y2","type":"quantitative","axis":null}}},
   {"mark":{"type":"text","dx":18},"encoding":{"y":{"field":"y2","type":"quantitative","axis":null},"text":{"field":"eq"}}},
   {"mark":{"type":"text"},"encoding":{"y":{"field":"y3","type":"quantitative","axis":null},"text":{"field":"sig"}}},
   {"mark":{"type":"text","text":"sky","fontSize":6,"dx":10,"dy":2.5},"encoding":{"y":{"field":"y3","type":"quantitative","axis":null}}}
  ]}
]},
{"width":130,"height":102.5,"resolve":{"axis":{"x":"independent","y":"independent"}},"layer":[
 {"data":{"name":"bands"},"transform":[{"filter":"datum.p=='GS2'"}],"encoding":{"x":{"field":"x","type":"quantitative","scale":{"domain":[0,90],"nice":false},"axis":null}},
  "layer":[
   {"mark":{"type":"area","color":"#8c8c8c"},"encoding":{"y":{"field":"h3","type":"quantitative","scale":{"domain":[11.1,21.45],"nice":false,"zero":false},"axis":null},"y2":{"field":"l3"}}},
   {"mark":{"type":"area","color":"#ababab"},"encoding":{"y":{"field":"h2","type":"quantitative","axis":null},"y2":{"field":"l2"}}},
   {"mark":{"type":"area","color":"#c8c8c8"},"encoding":{"y":{"field":"h1","type":"quantitative","axis":null},"y2":{"field":"l1"}}},
   {"mark":{"type":"area","color":"#e0e0e0"},"encoding":{"y":{"field":"h0","type":"quantitative","axis":null},"y2":{"field":"l0"}}}
  ]},
 {"data":{"name":"bands"},"transform":[{"filter":"datum.p=='GS2'"}],"mark":{"type":"line","color":"#000","strokeWidth":0.8},"encoding":{"x":{"field":"x","type":"quantitative","axis":null},"y":{"field":"m","type":"quantitative","axis":{"orient":"left","values":[11.5,12,12.5,13,13.5,14,14.5,15,15.5,16,16.5,17,17.5,18,18.5,19,19.5,20,20.5,21],"tickSize":2,"offset":-2,"labels":false,"title":null}}}},
 {"data":{"name":"lines"},"transform":[{"filter":"datum.p=='GS2'"}],"mark":{"type":"line","color":"#d42a2a"},"encoding":{"x":{"field":"x","type":"quantitative","axis":{"orient":"bottom","values":[0,15,30,45,60,75,90],"labelPadding":5,"labelExpr":"datum.value % 30 == 0 ? (datum.value == 0 ? '0' : datum.value + '°') : ''","title":null}},"y":{"field":"r","type":"quantitative","axis":{"orient":"left","values":[12,14,16,18,20],"title":"T−T correlation [10³μK²]"}}}},
 {"data":{"name":"lines"},"transform":[{"filter":"datum.p=='GS2'"}],"mark":{"type":"line","color":"#2a2ad4"},"encoding":{"x":{"field":"x","type":"quantitative","axis":{"orient":"top","values":[0,15,30,45,60,75,90],"labels":false,"title":null}},"y":{"field":"b","type":"quantitative","axis":{"orient":"right","values":[12,14,16,18,20],"labels":false,"title":null}}}},
 {"data":{"name":"ann"},"transform":[{"filter":"datum.p=='GS2'"}],"mark":{"type":"text"},"encoding":{"x":{"field":"x","type":"quantitative","axis":null},"y":{"field":"y1","type":"quantitative","axis":{"orient":"right","values":[11.5,12,12.5,13,13.5,14,14.5,15,15.5,16,16.5,17,17.5,18,18.5,19,19.5,20,20.5,21],"tickSize":2,"offset":-2,"labels":false,"title":null}},"text":{"field":"name"}}},
 {"data":{"name":"ann"},"transform":[{"filter":"datum.p=='GS2'"}],"encoding":{"x":{"field":"x","type":"quantitative","axis":null}},
  "layer":[
   {"mark":{"type":"text","text":"l","fontStyle":"italic"},"encoding":{"y":{"field":"y2","type":"quantitative","axis":null}}},
   {"mark":{"type":"text","text":"rmv","fontSize":6,"dx":3,"dy":2.5},"encoding":{"y":{"field":"y2","type":"quantitative","axis":null}}},
   {"mark":{"type":"text","dx":18},"encoding":{"y":{"field":"y2","type":"quantitative","axis":null},"text":{"field":"eq"}}},
   {"mark":{"type":"text"},"encoding":{"y":{"field":"y3","type":"quantitative","axis":null},"text":{"field":"sig"}}},
   {"mark":{"type":"text","text":"sky","fontSize":6,"dx":10,"dy":2.5},"encoding":{"y":{"field":"y3","type":"quantitative","axis":null}}}
  ]}
]},
{"width":130,"height":102.5,"resolve":{"axis":{"x":"independent","y":"independent"}},"layer":[
 {"data":{"name":"bands"},"transform":[{"filter":"datum.p=='ES2'"}],"encoding":{"x":{"field":"x","type":"quantitative","scale":{"domain":[0,90],"nice":false},"axis":null}},
  "layer":[
   {"mark":{"type":"area","color":"#8c8c8c"},"encoding":{"y":{"field":"h3","type":"quantitative","scale":{"domain":[11.1,21.45],"nice":false,"zero":false},"axis":null},"y2":{"field":"l3"}}},
   {"mark":{"type":"area","color":"#ababab"},"encoding":{"y":{"field":"h2","type":"quantitative","axis":null},"y2":{"field":"l2"}}},
   {"mark":{"type":"area","color":"#c8c8c8"},"encoding":{"y":{"field":"h1","type":"quantitative","axis":null},"y2":{"field":"l1"}}},
   {"mark":{"type":"area","color":"#e0e0e0"},"encoding":{"y":{"field":"h0","type":"quantitative","axis":null},"y2":{"field":"l0"}}}
  ]},
 {"data":{"name":"bands"},"transform":[{"filter":"datum.p=='ES2'"}],"mark":{"type":"line","color":"#000","strokeWidth":0.8},"encoding":{"x":{"field":"x","type":"quantitative","axis":null},"y":{"field":"m","type":"quantitative","axis":{"orient":"left","values":[11.5,12,12.5,13,13.5,14,14.5,15,15.5,16,16.5,17,17.5,18,18.5,19,19.5,20,20.5,21],"tickSize":2,"offset":-2,"labels":false,"title":null}}}},
 {"data":{"name":"lines"},"transform":[{"filter":"datum.p=='ES2'"}],"mark":{"type":"line","color":"#d42a2a"},"encoding":{"x":{"field":"x","type":"quantitative","axis":{"orient":"bottom","values":[0,15,30,45,60,75,90],"labelPadding":5,"labelExpr":"datum.value % 30 == 0 && datum.value > 0 ? datum.value + '°' : ''","title":null}},"y":{"field":"r","type":"quantitative","axis":{"orient":"left","values":[12,14,16,18,20],"labels":false,"title":null}}}},
 {"data":{"name":"lines"},"transform":[{"filter":"datum.p=='ES2'"}],"mark":{"type":"line","color":"#2a2ad4"},"encoding":{"x":{"field":"x","type":"quantitative","axis":{"orient":"top","values":[0,15,30,45,60,75,90],"labels":false,"title":null}},"y":{"field":"b","type":"quantitative","axis":{"orient":"right","values":[12,14,16,18,20],"labels":false,"title":null}}}},
 {"data":{"name":"ann"},"transform":[{"filter":"datum.p=='ES2'"}],"mark":{"type":"text"},"encoding":{"x":{"field":"x","type":"quantitative","axis":null},"y":{"field":"y1","type":"quantitative","axis":{"orient":"right","values":[11.5,12,12.5,13,13.5,14,14.5,15,15.5,16,16.5,17,17.5,18,18.5,19,19.5,20,20.5,21],"tickSize":2,"offset":-2,"labels":false,"title":null}},"text":{"field":"name"}}},
 {"data":{"name":"ann"},"transform":[{"filter":"datum.p=='ES2'"}],"encoding":{"x":{"field":"x","type":"quantitative","axis":null}},
  "layer":[
   {"mark":{"type":"text","text":"l","fontStyle":"italic"},"encoding":{"y":{"field":"y2","type":"quantitative","axis":null}}},
   {"mark":{"type":"text","text":"rmv","fontSize":6,"dx":3,"dy":2.5},"encoding":{"y":{"field":"y2","type":"quantitative","axis":null}}},
   {"mark":{"type":"text","dx":18},"encoding":{"y":{"field":"y2","type":"quantitative","axis":null},"text":{"field":"eq"}}},
   {"mark":{"type":"text"},"encoding":{"y":{"field":"y3","type":"quantitative","axis":null},"text":{"field":"sig"}}},
   {"mark":{"type":"text","text":"sky","fontSize":6,"dx":10,"dy":2.5},"encoding":{"y":{"field":"y3","type":"quantitative","axis":null}}}
  ]}
]}
],
"config":{
 "view":{"stroke":"#000","strokeWidth":1},
 "axis":{"domain":false,"grid":false,"zindex":1,"tickColor":"#000","tickWidth":0.8,"tickSize":4,"offset":-4,"labelColor":"#000","labelFont":"Liberation Serif","labelFontSize":7,"titleFont":"DejaVu Sans Mono","titleFontSize":7,"titleFontWeight":"normal","titleColor":"#000","labelPadding":4.5,"titlePadding":1.5},
 "axisX":{"labelFontSize":8},
 "text":{"align":"left","baseline":"middle","font":"Liberation Serif","fontSize":9,"color":"#000"},
 "line":{"strokeWidth":0.9}
}
}
